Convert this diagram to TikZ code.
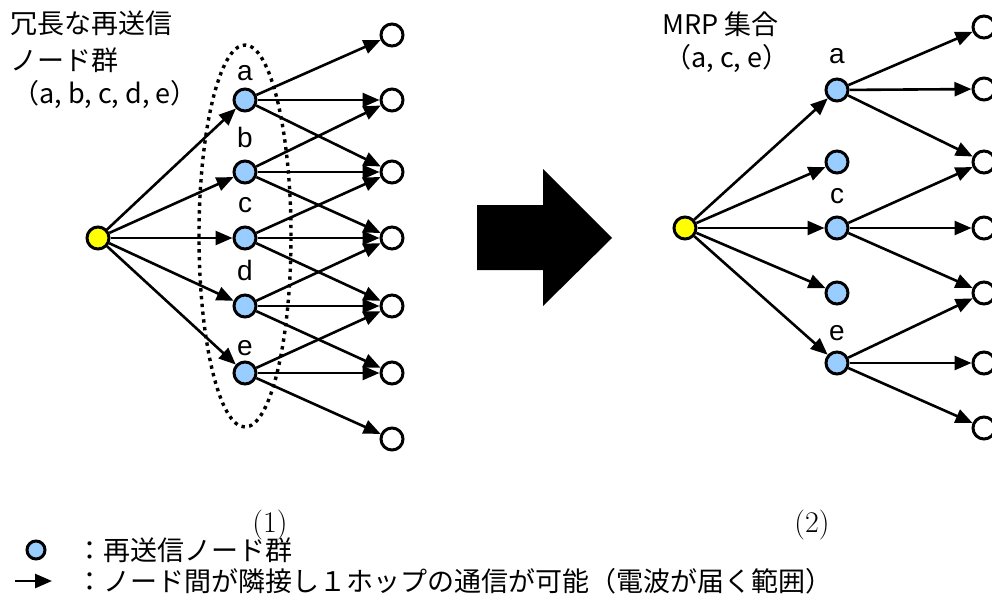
\documentclass[tikz,border=0pt]{standalone}
\usepackage{fontspec}
\newfontfamily\jp{Noto Sans CJK JP}
\newfontfamily\arialfont{Liberation Sans}
\usetikzlibrary{arrows.meta}

\definecolor{relayblue}{RGB}{153,204,255}
\definecolor{srcyellow}{RGB}{255,255,0}

\tikzset{
  srcnode/.style={circle, draw, line width=1.5pt, fill=srcyellow, minimum size=11pt, inner sep=0pt},
  relay/.style={srcnode, fill=relayblue},
  sink/.style={srcnode, fill=white},
  link/.style={-{Triangle[length=8.5pt,width=7pt]}, line width=1.3pt},
  tag/.style={anchor=base, inner sep=0pt, font=\arialfont\fontsize{14}{16}\selectfont},
  jptext/.style={anchor=base west, inner sep=0pt, font=\jp\fontsize{13.5}{16}\selectfont},
  caption/.style={font=\fontsize{15}{17}\selectfont},
}

\begin{document}
\begin{tikzpicture}[x=0.5pt,y=-0.5pt]
\useasboundingbox (0,0) rectangle (992,605);

% (1) all relay candidates
\node[jptext] (title1) at (10,33) {冗長な再送信};
\node[jptext] (title1b) at (10,70) {ノード群};
\node[jptext] (set1) at (12,104) {（a, b, c, d, e）};

\node[srcnode] (s1) at (98,238) {};
\node[relay] (a1) at (245,100) {};
\node[relay] (b1) at (245,172) {};
\node[relay] (c1) at (245,238) {};
\node[relay] (d1) at (245,306) {};
\node[relay] (e1) at (245,373) {};
\node[tag] (la1) at (245,80) {a};
\node[tag] (lb1) at (245,147) {b};
\node[tag] (lc1) at (245,212) {c};
\node[tag] (ld1) at (245,280) {d};
\node[tag] (le1) at (245,355) {e};

\node[sink] (t1) at (392,35) {};
\node[sink] (t2) at (392,100) {};
\node[sink] (t3) at (392,172) {};
\node[sink] (t4) at (392,238) {};
\node[sink] (t5) at (392,306) {};
\node[sink] (t6) at (392,373) {};
\node[sink] (t7) at (392,439) {};

\draw[line width=1.7pt, dash pattern=on 1.7pt off 2.2pt] (245,236) ellipse [x radius=23pt, y radius=95.5pt];

\draw[link] (s1) -- (a1);
\draw[link] (s1) -- (b1);
\draw[link] (s1) -- (c1);
\draw[link] (s1) -- (d1);
\draw[link] (s1) -- (e1);
\draw[link] (a1) -- (t1);
\draw[link] (a1) -- (t2);
\draw[link] (a1) -- (t3);
\draw[link] (b1) -- (t2);
\draw[link] (b1) -- (t3);
\draw[link] (b1) -- (t4);
\draw[link] (c1) -- (t3);
\draw[link] (c1) -- (t4);
\draw[link] (c1) -- (t5);
\draw[link] (d1) -- (t4);
\draw[link] (d1) -- (t5);
\draw[link] (d1) -- (t6);
\draw[link] (e1) -- (t5);
\draw[link] (e1) -- (t6);
\draw[link] (e1) -- (t7);

\node[caption] (cap1) at (270,525) {(1)};

% big arrow between the two cases
\fill (477,205) -- (543,205) -- (543,169) -- (612,238) -- (543,306) -- (543,270) -- (477,270) -- cycle;

% (2) MRP set only
\node[jptext] (title2) at (662,34) {MRP 集合};
\node[jptext] (set2) at (664,68) {（a, c, e）};

\node[srcnode] (s2) at (685,228) {};
\node[relay] (a2) at (837,90) {};
\node[relay] (b2) at (837,162) {};
\node[relay] (c2) at (837,228) {};
\node[relay] (d2) at (837,293) {};
\node[relay] (e2) at (837,363) {};
\node[tag] (la2) at (837,63) {a};
\node[tag] (lc2) at (837,203) {c};
\node[tag] (le2) at (837,340) {e};

\node[sink] (u1) at (984,27) {};
\node[sink] (u2) at (984,89) {};
\node[sink] (u3) at (984,162) {};
\node[sink] (u4) at (984,228) {};
\node[sink] (u5) at (984,293) {};
\node[sink] (u6) at (984,363) {};
\node[sink] (u7) at (984,428) {};

\draw[link] (s2) -- (a2);
\draw[link] (s2) -- (b2);
\draw[link] (s2) -- (c2);
\draw[link] (s2) -- (d2);
\draw[link] (s2) -- (e2);
\draw[link] (a2) -- (u1);
\draw[link] (a2) -- (u2);
\draw[link] (a2) -- (u3);
\draw[link] (c2) -- (u3);
\draw[link] (c2) -- (u4);
\draw[link] (c2) -- (u5);
\draw[link] (e2) -- (u5);
\draw[link] (e2) -- (u6);
\draw[link] (e2) -- (u7);

\node[caption] (cap2) at (812,525) {(2)};

% legend
\node[relay, minimum size=9pt] (keyrelay) at (36,550) {};
\node[jptext] (keyrelaytxt) at (76,560) {：再送信ノード群};
\coordinate (keyfrom) at (15,581);
\coordinate (keyto) at (52,581);
\draw[link] (keyfrom) -- (keyto);
\node[jptext] (keylinktxt) at (76,591) {：ノード間が隣接し１ホップの通信が可能（電波が届く範囲）};
\end{tikzpicture}
\end{document}
